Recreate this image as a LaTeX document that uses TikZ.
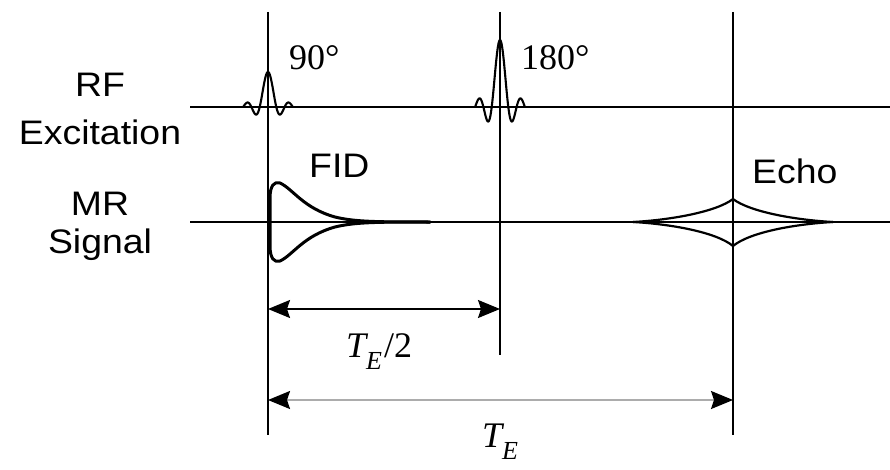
\documentclass[tikz,border=0pt]{standalone}
\usepackage{fontspec}
\setmainfont{Liberation Serif}
\newfontfamily\labfont[FakeStretch=1.1]{Liberation Sans}
\usetikzlibrary{arrows.meta}
\tikzset{
  axisline/.style={line width=1.7pt,black},
  marker/.style={line width=1.4pt,black},
  pulse/.style={line width=2.1pt,black,line join=round},
  fid/.style={line width=3pt,black,line join=round,line cap=round},
  echo/.style={line width=2.2pt,black,line join=miter},
  dimarrow/.style={line width=1.8pt,{Stealth[length=22pt,width=18pt,inset=3pt,color=black]}-{Stealth[length=22pt,width=18pt,inset=3pt,color=black]}},
  lab/.style={font=\labfont\fontsize{34}{38}\selectfont,inner sep=0pt},
  serif/.style={font=\fontsize{36}{40}\selectfont,inner sep=0pt}
}
\newcommand{\TEsub}{{\itshape T}\kern0pt\raisebox{-0.36em}{\fontsize{26}{28}\selectfont\itshape E}\kern2pt}
\begin{document}
\begin{tikzpicture}[x=1pt,y=-1pt]
\useasboundingbox (0,0) rectangle (890,470);
\fill[white] (0,0) rectangle (890,470);
% coordinates
\coordinate (rfL) at (190,107);
\coordinate (rfR) at (890,107);
\coordinate (mrL) at (190,222);
\coordinate (mrR) at (890,222);
\coordinate (v1t) at (268,12);
\coordinate (v1b) at (268,435);
\coordinate (v2t) at (500,12);
\coordinate (v2b) at (500,355);
\coordinate (v3t) at (733,12);
\coordinate (v3b) at (733,435);
\coordinate (a1l) at (268,309);
\coordinate (a1r) at (500,309);
\coordinate (a2l) at (268,400);
\coordinate (a2r) at (733,400);
% axes
\draw[axisline] (rfL) -- (rfR);
\draw[axisline] (mrL) -- (mrR);
% RF pulses
\draw[pulse] plot[domain=-3:3,samples=120] ({268+8.3*\x},{107-35*sin(180*\x)/(3.14159*\x)});
\draw[pulse] plot[domain=-3:3,samples=120] ({500+8.3*\x},{107-67*sin(180*\x)/(3.14159*\x)});
% verticals
\draw[marker] (v1t) -- (v1b);
\draw[marker] (v2t) -- (v2b);
\draw[marker] (v3t) -- (v3b);
% FID
\draw[fid] (270,222) -- (270,198) .. controls (270,186) and (274,181) .. (280,183)
  .. controls (293,189) and (303,208) .. (335,217) .. controls (355,222) and (380,222) .. (430,222);
\draw[fid] (270,222) -- (270,246) .. controls (270,258) and (274,263) .. (280,261)
  .. controls (293,255) and (303,236) .. (335,227) .. controls (355,222) and (380,222) .. (430,222);
% Echo
\draw[echo] (633,222) .. controls (670,220) and (716,212) .. (733,199)
  .. controls (750,212) and (796,220) .. (833,222);
\draw[echo] (633,222) .. controls (670,224) and (716,232) .. (733,246)
  .. controls (750,232) and (796,224) .. (833,222);
% dimension arrows
\draw[dimarrow,black] (a1l) -- (a1r);
\draw[dimarrow,draw=gray!65] (a2l) -- (a2r);
% labels
\node[lab,anchor=base] (rf) at (100,97) {RF};
\node[lab,anchor=base] (exc) at (100,145) {Excitation};
\node[lab,anchor=base] (mr) at (100,215) {MR};
\node[lab,anchor=base] (sig) at (100,253) {Signal};
\node[lab,anchor=base west] (fidl) at (309,178) {FID};
\node[lab,anchor=base west] (echol) at (752,184) {Echo};
\node[serif,anchor=base west] (p90) at (289,70) {90°};
\node[serif,anchor=base west] (p180) at (521,70) {180°};
\node[serif,anchor=base west] (te2) at (346,357) {\TEsub/2};
\node[serif,anchor=base west] (te) at (482,447) {\TEsub};
\end{tikzpicture}
\end{document}
